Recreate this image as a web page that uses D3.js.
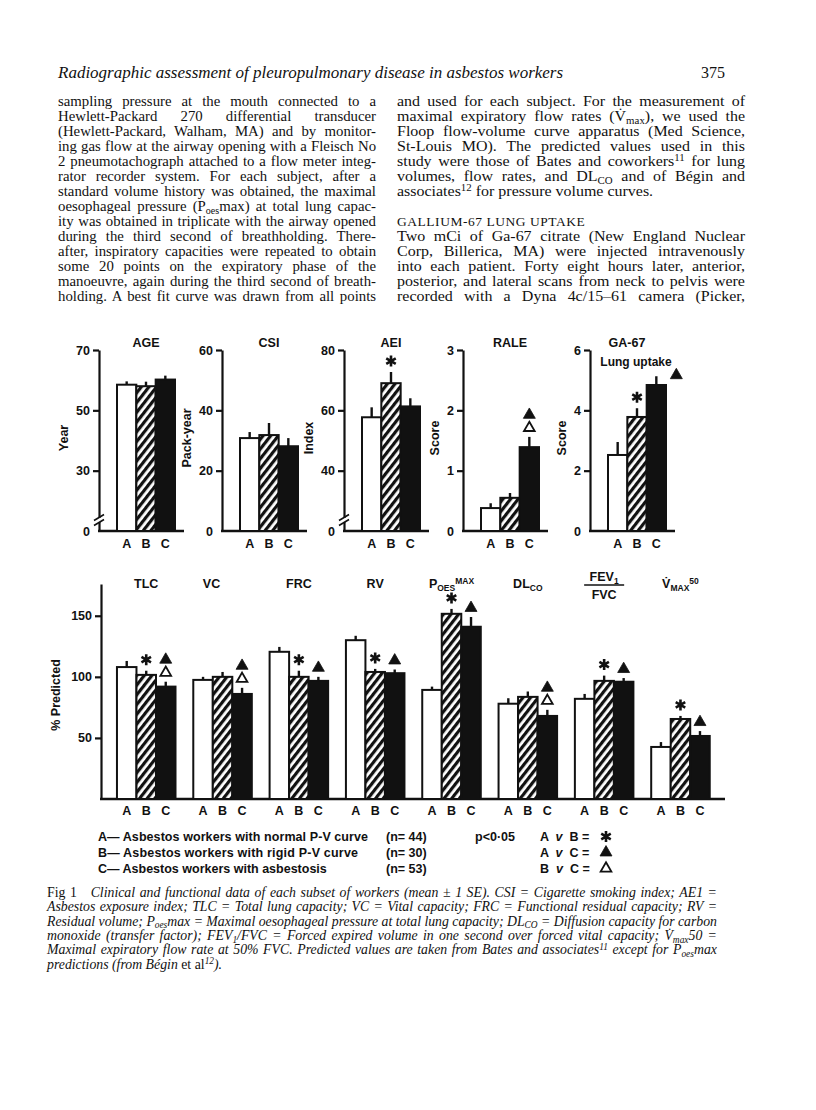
<!DOCTYPE html>
<html>
<head>
<meta charset="utf-8">
<script src="https://cdn.jsdelivr.net/npm/d3@7"></script>
<style>
  body { margin: 0; background: #fff; }
  svg { display: block; }
  .fig { font-family: "Liberation Sans", Arial, sans-serif; font-weight: bold; fill: #111; }
  .serif { font-family: "Liberation Serif", "Times New Roman", serif; fill: #111; }
</style>
</head>
<body>
<svg id="page" width="816" height="1110"></svg>
<script>
// ---- data ----
const groups = ['A', 'B', 'C'];

const topNames = ['AGE', 'CSI', 'AEI', 'RALE', 'GA-67'];
const topUnits = ['Year', 'Pack-year', 'Index', 'Score', 'Score'];
const topDomains = [[10, 70], [0, 60], [20, 80], [0, 3], [0, 6]];
const topTicks = [[0, 30, 50, 70], [0, 20, 40, 60], [0, 40, 60, 80], [0, 1, 2, 3], [0, 2, 4, 6]];
const topMeans = [[58.5, 58, 60.2], [30.8, 31.8, 28.1], [57.7, 69, 61.3], [0.38, 0.55, 1.39], [2.52, 3.78, 4.84]];
const topSE = [[1.1, 1.5, 1.3], [2, 4, 2.7], [3.3, 3.7, 2.7], [0.08, 0.08, 0.17], [0.43, 0.29, 0.29]];
const topSig = [[], [], ['AB'], ['AC', 'BC'], ['AB', 'AC']];

const botNames = ['TLC', 'VC', 'FRC', 'RV', 'POESMAX', 'DLCO', 'FEV1/FVC', 'VMAX50'];
const botTitles = ['TLC', 'VC', 'FRC', 'RV', 'P_{OES}^{MAX}', 'DL_{CO}', 'FEV_{1}|FVC', 'V̇_{MAX}^{50}'];
const botTicks = [50, 100, 150];
const botMeans = [[108, 101.6, 92], [97.5, 100, 86], [120.5, 100, 96.7], [130, 104, 103],
                  [89.3, 151.6, 141], [78, 83.6, 68], [82, 96.7, 96], [42.6, 65.5, 51.6]];
const botSE = [[5, 3.4, 4], [2.5, 4, 5], [4, 5, 3.3], [3.6, 2.5, 3],
               [2.7, 4, 8], [4.5, 4.4, 5], [4, 4.3, 3], [4, 2.5, 4]];
const botSig = [['AB', 'AC', 'BC'], ['AC', 'BC'], ['AB', 'AC'], ['AB', 'AC'],
                ['AB', 'AC'], ['AC', 'BC'], ['AB', 'AC'], ['AB', 'AC']];

const legendRows = ['A— Asbestos workers with normal P-V curve', 'B— Asbestos workers with rigid P-V curve', 'C— Asbestos workers with asbestosis'];
const legendN = ['(n= 44)', '(n= 30)', '(n= 53)'];
const legendSig = [['A', 'B', 'AB'], ['A', 'C', 'AC'], ['B', 'C', 'BC']];

const header = 'Radiographic assessment of pleuropulmonary disease in asbestos workers';
const pageNo = '375';
const leftCol = [
  'sampling pressure at the mouth connected to a',
  'Hewlett-Packard 270 differential transducer',
  '(Hewlett-Packard, Walham, MA) and by monitor-',
  'ing gas flow at the airway opening with a Fleisch No',
  '2 pneumotachograph attached to a flow meter integ-',
  'rator recorder system. For each subject, after a',
  'standard volume history was obtained, the maximal',
  'oesophageal pressure (P_{oes}max) at total lung capac-',
  'ity was obtained in triplicate with the airway opened',
  'during the third second of breathholding. There-',
  'after, inspiratory capacities were repeated to obtain',
  'some 20 points on the expiratory phase of the',
  'manoeuvre, again during the third second of breath-',
  'holding. A best fit curve was drawn from all points'
];
const rightCol = [
  'and used for each subject. For the measurement of',
  'maximal expiratory flow rates (V̇_{max}), we used the',
  'Floop flow-volume curve apparatus (Med Science,',
  'St-Louis MO). The predicted values used in this',
  'study were those of Bates and coworkers^{11} for lung',
  'volumes, flow rates, and DL_{CO} and of Bégin and',
  '#associates^{12} for pressure volume curves.',
  '',
  '$GALLIUM-67 LUNG UPTAKE',
  'Two mCi of Ga-67 citrate (New England Nuclear',
  'Corp, Billerica, MA) were injected intravenously',
  'into each patient. Forty eight hours later, anterior,',
  'posterior, and lateral scans from neck to pelvis were',
  'recorded with a Dyna 4c/15–61 camera (Picker,'
];
const caption = [
  '~{Fig 1}   Clinical and functional data of each subset of workers (mean ± 1 SE). CSI = Cigarette smoking index; AE1 =',
  'Asbestos exposure index; TLC = Total lung capacity; VC = Vital capacity; FRC = Functional residual capacity; RV =',
  'Residual volume; P_{oes}max = Maximal oesophageal pressure at total lung capacity; DL_{CO} = Diffusion capacity for carbon',
  'monoxide (transfer factor); FEV_{1}/FVC = Forced expired volume in one second over forced vital capacity; V̇_{max}50 =',
  'Maximal expiratory flow rate at 50% FVC. Predicted values are taken from Bates and associates^{11} except for P_{oes}max',
  '#predictions (from Bégin ~{et al}^{12}).'
];

// ---- helpers ----
const page = d3.select('#page');
const ink = '#111';

// markup: _{sub} ^{sup} ~{flip italic}
function rich(sel, str, fs, italic) {
  const parts = str.split(/(_\{[^}]*\}|\^\{[^}]*\}|~\{[^}]*\})/).filter(s => s.length);
  let off = 0;
  parts.forEach(p => {
    let txt = p, target = 0, small = false, flip = false;
    if (p.startsWith('_{')) { txt = p.slice(2, -1); target = 0.2; small = true; }
    else if (p.startsWith('^{')) { txt = p.slice(2, -1); target = -0.32; small = true; }
    else if (p.startsWith('~{')) { txt = p.slice(2, -1); flip = true; }
    const t = sel.append('tspan').text(txt);
    if (target !== off) t.attr('dy', ((target - off) * fs).toFixed(2));
    off = target;
    if (small) t.attr('font-size', fs * 0.68);
    if (flip) t.attr('font-style', italic ? 'normal' : 'italic');
  });
}

// justify by stretching the spaces between words
function textLine(parent, x, y, str, width, fs, italic) {
  let justify = true;
  if (str.startsWith('#')) { justify = false; str = str.slice(1); }
  const t = parent.append('text').attr('class', 'serif')
    .attr('x', x).attr('y', y).attr('font-size', fs)
    .attr('font-style', italic ? 'italic' : 'normal')
    .attr('xml:space', 'preserve');
  rich(t, str, fs, italic);
  if (justify && width) {
    const natural = t.node().getComputedTextLength();
    const spaces = (t.text().match(/ /g) || []).length;
    if (natural < width && spaces) t.attr('word-spacing', ((width - natural) / spaces).toFixed(2));
    else if (natural > width) t.attr('textLength', width).attr('lengthAdjust', 'spacingAndGlyphs');
  }
  return t;
}

// hatch pattern
const defs = page.append('defs');
const pat = defs.append('pattern').attr('id', 'hatch')
  .attr('patternUnits', 'userSpaceOnUse').attr('width', 6).attr('height', 6)
  .attr('patternTransform', 'rotate(38)');
pat.append('rect').attr('width', 6).attr('height', 6).attr('fill', '#fff');
pat.append('rect').attr('width', 3.2).attr('height', 6).attr('fill', ink);

const fills = { A: '#fff', B: 'url(#hatch)', C: ink };

function marker(g, type, cx, cy) {
  if (type === 'AB') {
    g.append('path').attr('d', d3.symbol(d3.symbolAsterisk, 85)())
      .attr('transform', `translate(${cx},${cy})`)
      .attr('fill', 'none').attr('stroke', ink).attr('stroke-width', 2.6);
  } else {
    g.append('path').attr('d', d3.symbol(d3.symbolTriangle, type === 'AC' ? 62 : 50)())
      .attr('transform', `translate(${cx},${cy})`)
      .attr('fill', type === 'AC' ? ink : '#fff')
      .attr('stroke', ink).attr('stroke-width', type === 'AC' ? 0.8 : 1.8);
  }
}

function drawBars(g, x, y, means, ses, sig, xOff, special) {
  const data = groups.map((k, j) => ({ k, v: means[j], se: ses[j] }));
  g.selectAll('rect.bar').data(data).enter().append('rect').attr('class', 'bar')
    .attr('x', d => x(d.k) + xOff).attr('width', x.bandwidth())
    .attr('y', d => y(d.v)).attr('height', d => y.range()[0] - y(d.v))
    .attr('fill', d => fills[d.k]).attr('stroke', ink).attr('stroke-width', 2);
  g.selectAll('line.err').data(data).enter().append('line').attr('class', 'err')
    .attr('x1', d => x(d.k) + xOff + x.bandwidth() / 2).attr('x2', d => x(d.k) + xOff + x.bandwidth() / 2)
    .attr('y1', d => y(d.v)).attr('y2', d => y(d.v + d.se))
    .attr('stroke', ink).attr('stroke-width', 2.4);
  const top = k => { const d = data[groups.indexOf(k)]; return y(d.v + d.se); };
  const cx = k => x(k) + xOff + x.bandwidth() / 2;
  if (sig.includes('AB')) marker(g, 'AB', cx('B'), top('B') - 11);
  const hasOpen = sig.includes('BC');
  if (hasOpen) marker(g, 'BC', cx('C'), top('C') - 9);
  if (sig.includes('AC')) {
    if (special) marker(g, 'AC', cx('C') + 20, top('C') - 1);
    else marker(g, 'AC', cx('C'), top('C') - 9 - (hasOpen ? 13 : 0));
  }
}

function styleAxis(a) {
  a.select('.domain').attr('stroke', ink).attr('stroke-width', 2.2);
  a.selectAll('.tick line').attr('stroke', ink).attr('stroke-width', 2.2);
  a.selectAll('.tick text').attr('fill', ink)
    .attr('font-family', '"Liberation Sans", Arial, sans-serif')
    .attr('font-weight', 'bold').attr('font-size', 12.5);
}

// ---- top row ----
const topX = [99, 222, 344, 463, 590];
const tY0 = 531, tY1 = 350;
topNames.forEach((name, i) => {
  const x0 = topX[i];
  const dom = topDomains[i];
  const y = d3.scaleLinear().domain(dom).range([tY0, tY1]);
  const x = d3.scaleBand().domain(groups).range([x0 + 18, x0 + 76]);
  const g = page.append('g').attr('class', 'fig');

  const ax = g.append('g').attr('transform', `translate(${x0},0)`)
    .call(d3.axisLeft(y).tickValues(topTicks[i].map(t => Math.max(t, dom[0])))
      .tickFormat(t => t === dom[0] ? '0' : t).tickSize(6).tickSizeOuter(0).tickPadding(3));
  styleAxis(ax);
  ax.selectAll('.tick').filter(t => t === dom[0]).select('line').remove();

  g.append('line').attr('x1', x0 - 1).attr('x2', x0 + 85).attr('y1', tY0).attr('y2', tY0)
    .attr('stroke', ink).attr('stroke-width', 2.4);

  if (dom[0] > 0) {
    const by = tY0 - 11;
    g.append('rect').attr('x', x0 - 3).attr('y', by - 2).attr('width', 6).attr('height', 4).attr('fill', '#fff');
    [-2.5, 2.5].forEach(o => g.append('line')
      .attr('x1', x0 - 5).attr('x2', x0 + 5).attr('y1', by + o + 3).attr('y2', by + o - 3)
      .attr('stroke', ink).attr('stroke-width', 1.6));
  }

  drawBars(g, x, y, topMeans[i], topSE[i], topSig[i], 0, name === 'GA-67');

  g.selectAll('text.grp').data(groups).enter().append('text').attr('class', 'grp')
    .attr('x', d => x(d) + x.bandwidth() / 2).attr('y', 548)
    .attr('text-anchor', 'middle').attr('font-size', 12.5).text(d => d);

  const lx = x0 - (String(topTicks[i][3]).length > 1 ? 31 : 24);
  g.append('text').attr('transform', `translate(${lx},438) rotate(-90)`)
    .attr('text-anchor', 'middle').attr('font-size', 12.5).text(topUnits[i]);

  if (name === 'GA-67') {
    g.append('text').attr('x', x0 + 37).attr('y', 347).attr('text-anchor', 'middle').attr('font-size', 12.5).text(name);
    g.append('text').attr('x', x0 + 46).attr('y', 366).attr('text-anchor', 'middle').attr('font-size', 12)
      .text('Lung uptake');
  } else {
    g.append('text').attr('x', x0 + 47).attr('y', 347).attr('text-anchor', 'middle').attr('font-size', 12.5).text(name);
  }
});

// ---- bottom row ----
const bX0 = 101, bY0 = 799;
const yb = d3.scaleLinear().domain([0, 176]).range([bY0, 584]);
const xb = d3.scaleBand().domain(botNames).range([bX0 + 0.7, 725]).paddingInner(0.233).paddingOuter(0.2);
const xs = d3.scaleBand().domain(groups).range([0, xb.bandwidth()]);
const gb = page.append('g').attr('class', 'fig');
const axb = gb.append('g').attr('transform', `translate(${bX0},0)`)
  .call(d3.axisLeft(yb).tickValues(botTicks).tickSize(6).tickSizeOuter(0).tickPadding(3));
styleAxis(axb);
gb.append('line').attr('x1', bX0 - 1).attr('x2', 725).attr('y1', bY0).attr('y2', bY0)
  .attr('stroke', ink).attr('stroke-width', 2.4);
gb.append('text').attr('transform', `translate(60,695) rotate(-90)`)
  .attr('text-anchor', 'middle').attr('font-size', 12.5).text('% Predicted');

botNames.forEach((name, i) => {
  const g = gb.append('g');
  drawBars(g, xs, yb, botMeans[i], botSE[i], botSig[i], xb(name), false);
  g.selectAll('text.grp').data(groups).enter().append('text').attr('class', 'grp')
    .attr('x', d => xb(name) + xs(d) + xs.bandwidth() / 2).attr('y', 815)
    .attr('text-anchor', 'middle').attr('font-size', 12.5).text(d => d);
  const cx = xb(name) + xb.bandwidth() / 2 + (name === 'VC' ? -11 : 0);
  const ttl = botTitles[i];
  if (ttl.includes('|')) {
    const [num, den] = ttl.split('|');
    const t1 = g.append('text').attr('x', cx).attr('y', 581).attr('text-anchor', 'middle').attr('font-size', 12.5);
    rich(t1, num, 12.5, false);
    g.append('line').attr('x1', cx - 20).attr('x2', cx + 20).attr('y1', 585).attr('y2', 585)
      .attr('stroke', ink).attr('stroke-width', 1.3);
    g.append('text').attr('x', cx).attr('y', 599).attr('text-anchor', 'middle').attr('font-size', 12.5).text(den);
  } else {
    const t = g.append('text').attr('x', cx).attr('y', 588).attr('text-anchor', 'middle').attr('font-size', 12.5);
    rich(t, ttl, 12.5, false);
  }
});

// ---- legend ----
const lg = page.append('g').attr('class', 'fig').attr('font-size', 12.5);
const legendW = [270, 260, null];
legendRows.forEach((r, i) => {
  const yy = 841 + i * 16;
  lg.append('text').attr('x', 98).attr('y', yy)
    .attr('textLength', legendW[i]).attr('lengthAdjust', 'spacing').text(r);
  lg.append('text').attr('x', 386).attr('y', yy).attr('xml:space', 'preserve').text(legendN[i]);
  const s = legendSig[i];
  const t = lg.append('text').attr('x', 540).attr('y', yy).attr('xml:space', 'preserve');
  rich(t, `${s[0]}  ~{v}  ${s[1]} =`, 12.5, false);
  marker(lg, s[2], 606, yy - 4.5);
});
lg.append('text').attr('x', 475).attr('y', 841).text('p<0·05');

// ---- page text ----
page.append('text').attr('class', 'serif').attr('x', 58).attr('y', 78)
  .attr('font-size', 17).attr('font-style', 'italic').text(header);
page.append('text').attr('class', 'serif').attr('x', 725).attr('y', 78)
  .attr('font-size', 16).attr('text-anchor', 'end').text(pageNo);

leftCol.forEach((l, i) => textLine(page, 58, 106 + i * 15, l, 318, 14.8, false));

// right column glyphs are set slightly wider in the scan
const rStretch = 1.08;
const rc = page.append('g').attr('transform', `translate(397,0) scale(${rStretch},1)`);
rightCol.forEach((l, i) => {
  if (!l) return;
  if (l.startsWith('$')) {
    rc.append('text').attr('class', 'serif').attr('x', 0).attr('y', 106 + i * 15)
      .attr('font-size', 12.5).attr('letter-spacing', 0.5).text(l.slice(1));
  } else {
    textLine(rc, 0, 106 + i * 15, l, 348 / rStretch, 14.8, false);
  }
});

caption.forEach((l, i) => textLine(page, 47, 897 + i * 14.3, l, 670, 13.8, true));
</script>
</body>
</html>
